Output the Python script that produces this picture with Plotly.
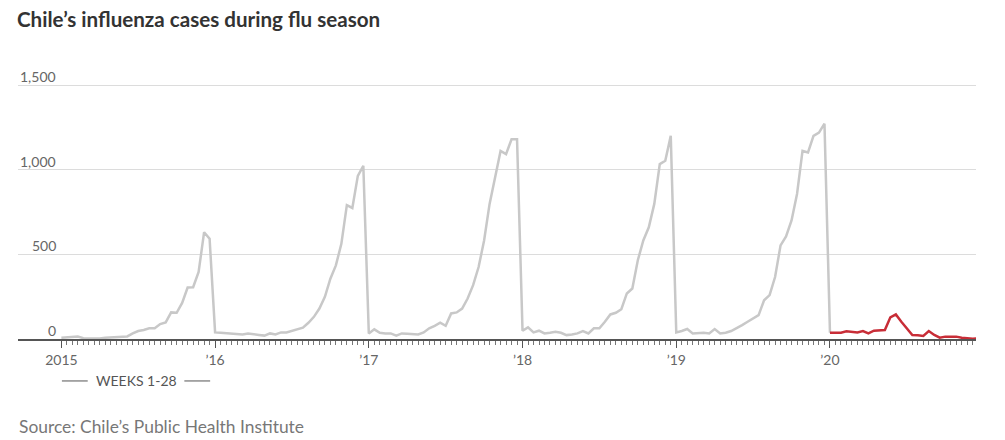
import plotly.graph_objects as go

# weekly influenza cases, weeks 1-28 of each season
weeks = list(range(1, 29))
cases_2015 = [8, 10, 12, 15, 5, 3, 3, 3, 8, 10, 10, 12, 15, 33, 47, 53, 63, 63, 88, 98,
              157, 155, 213, 304, 306, 396, 631, 592]
cases_2016 = [39, 37, 35, 31, 27, 27, 33, 27, 24, 20, 33, 27, 39, 39, 49, 59, 67, 96, 131, 180,
              249, 356, 435, 562, 791, 774, 964, 1023]
cases_2017 = [33, 57, 37, 33, 33, 20, 33, 31, 27, 27, 39, 63, 78, 96, 78, 151, 157, 180, 239, 318,
              425, 582, 798, 964, 1111, 1092, 1180, 1180]
cases_2018 = [49, 69, 39, 49, 33, 37, 43, 37, 23, 27, 33, 47, 33, 63, 63, 102, 145, 155, 176, 269,
              298, 465, 582, 660, 798, 1033, 1053, 1200]
cases_2019 = [39, 47, 59, 33, 37, 37, 33, 59, 33, 37, 47, 63, 82, 102, 122, 141, 229, 259, 366, 553,
              606, 700, 857, 1111, 1102, 1200, 1219, 1272]
cases_2020 = [37, 35, 37, 45, 41, 39, 47, 33, 49, 49, 53, 128, 145, 102, 63, 24, 22, 18, 47, 24,
              8, 14, 14, 14, 8, 4, 2, 3]

season_labels = ['2015', '’16', '’17', '’18', '’19', '’20']
y_ticks = [0, 500, 1000, 1500]
y_ticktext = ['0', '500', '1,000', '1,500']

past = [cases_2015, cases_2016, cases_2017, cases_2018, cases_2019]
n = len(weeks)

# position on the x axis = season number * 28 + week - 1
x_past, y_past = [], []
for s, season in enumerate(past):
    for w, v in zip(weeks, season):
        x_past.append(s * n + w - 1)
        y_past.append(v)
# connect to the first week of 2020
x_past.append(5 * n + weeks[0] - 1)
y_past.append(cases_2020[0])

x_2020 = [5 * n + w - 1 for w in weeks]

grey = 'rgb(200,200,200)'
red = 'rgb(200,45,55)'
font = 'Lato'

# page body has an 8px margin, so the figure is shifted by 8px
W, H = 989, 432

fig = go.Figure()
fig.add_trace(go.Scatter(x=x_past, y=y_past, mode='lines',
                         line=dict(color=grey, width=2.5), hoverinfo='skip'))
fig.add_trace(go.Scatter(x=x_2020, y=cases_2020, mode='lines',
                         line=dict(color=red, width=2.5), hoverinfo='skip'))

fig.update_layout(width=W, height=H, showlegend=False,
                  plot_bgcolor='white', paper_bgcolor='white',
                  margin=dict(l=10, r=21, t=72, b=101),
                  font=dict(family=font, color='#666'),
                  title=dict(text='<b>Chile’s influenza cases during flu season</b>',
                             font=dict(family=font, size=20.6, color='#333'),
                             x=9 / W, xanchor='left', xref='container',
                             y=1 - 12 / H, yanchor='middle', yref='container'))

fig.update_xaxes(range=[-7.9, 166.6], showgrid=False, zeroline=False,
                 showline=True, linecolor='#555', linewidth=1.5,
                 tickmode='array', tickvals=[s * n for s in range(len(season_labels))],
                 ticktext=season_labels, ticks='outside', ticklen=7, tickwidth=1.2,
                 tickcolor='#555', tickfont=dict(family=font, size=14, color='#666'),
                 minor=dict(tickmode='array', tickvals=list(range(6 * n)), ticks='outside',
                            ticklen=4, tickwidth=1, tickcolor='#777', showgrid=False))

fig.update_yaxes(range=[0, 1530], tickmode='array', tickvals=y_ticks,
                 showticklabels=False, showgrid=True, gridcolor='#dcdcdc', gridwidth=1,
                 zeroline=False)

# y tick labels sit above their gridlines
for v, t in zip(y_ticks, y_ticktext):
    fig.add_annotation(x=-0.7, y=v, xref='x', yref='y', text=t, showarrow=False,
                       xanchor='right', yanchor='bottom', yshift=-2,
                       font=dict(family=font, size=14, color='#666'))

fig.add_annotation(x=13.6, y=-0.162, xref='x', yref='paper', text='WEEKS 1-28',
                   showarrow=False, xanchor='center', yanchor='middle',
                   font=dict(family=font, size=14, color='#555'))
fig.add_shape(type='line', x0=0.1, x1=4.8, y0=-0.162, y1=-0.162, xref='x', yref='paper',
              line=dict(color='#555', width=1))
fig.add_shape(type='line', x0=22.4, x1=27.1, y0=-0.162, y1=-0.162, xref='x', yref='paper',
              line=dict(color='#555', width=1))

fig.add_annotation(x=-1 / 958, y=-0.336, xref='paper', yref='paper',
                   text='Source: Chile’s Public Health Institute', showarrow=False,
                   xanchor='left', yanchor='middle',
                   font=dict(family=font, size=17.4, color='#777'))

fig.write_html('out.html')
